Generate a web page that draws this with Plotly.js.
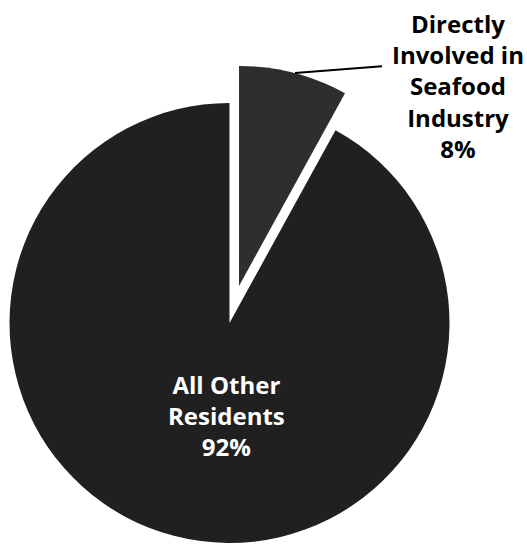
<!DOCTYPE html>
<html>
<head>
<meta charset="utf-8">
<script src="https://cdn.plot.ly/plotly-3.0.1.min.js"></script>
<style>
  html, body { margin: 0; padding: 0; background: #fff; overflow: hidden; width: 527px; height: 545px; }
  #chart { position: absolute; left: -40px; top: 0; width: 567px; height: 600px; }
</style>
</head>
<body>
<div id="chart"></div>
<script>
// ---- data ----
const categories = ["Directly<br>Involved in<br>Seafood<br>Industry", "All Other<br>Residents"];
const shares = [8, 92];            // percent of residents
const pulls = [0.174, 0];          // exploded slice
const sliceColors = ["#2e2e2e", "#202020"];

// ---- geometry (page pixels) ----
const OFFX = 40, W = 567, H = 600;
const cx = 229.5 + OFFX, cy = 323, r = 220;
const half = r * (1 + Math.max(...pulls));
const dom = {
  x: [(cx - half) / W, (cx + half) / W],
  y: [1 - (cy + half) / H, 1 - (cy - half) / H]
};
const px = x => (x + OFFX) / W;
const py = y => 1 - y / H;

const labelText = i => categories[i] + "<br>" + shares[i] + "%";

const trace = {
  type: "pie",
  values: shares,
  labels: categories,
  sort: false,
  direction: "clockwise",
  rotation: 0,
  pull: pulls,
  textinfo: "none",
  hoverinfo: "label+percent",
  marker: { colors: sliceColors, line: { color: "#ffffff", width: 0 } },
  domain: dom,
  showlegend: false
};

const layout = {
  width: W, height: H,
  margin: { l: 0, r: 0, t: 0, b: 0 },
  paper_bgcolor: "#ffffff",
  plot_bgcolor: "#ffffff",
  showlegend: false,
  annotations: [
    {
      xref: "paper", yref: "paper",
      x: px(458), y: py(86),
      xanchor: "center", yanchor: "middle",
      text: labelText(0),
      showarrow: false,
      align: "center",
      font: { family: "Open Sans, sans-serif", size: 24, color: "#000000", weight: "bold" }
    },
    {
      xref: "paper", yref: "paper",
      x: px(295), y: py(73),
      ax: 90, ay: -7,
      axref: "pixel", ayref: "pixel",
      text: " ",
      showarrow: true,
      arrowhead: 0,
      arrowwidth: 2,
      arrowcolor: "#000000"
    },
    {
      xref: "paper", yref: "paper",
      x: px(226), y: py(415),
      xanchor: "center", yanchor: "middle",
      text: labelText(1),
      showarrow: false,
      align: "center",
      font: { family: "Open Sans, sans-serif", size: 24, color: "#ffffff", weight: "bold" }
    }
  ]
};

Plotly.newPlot("chart", [trace], layout, { staticPlot: true, displayModeBar: false });
</script>
</body>
</html>
